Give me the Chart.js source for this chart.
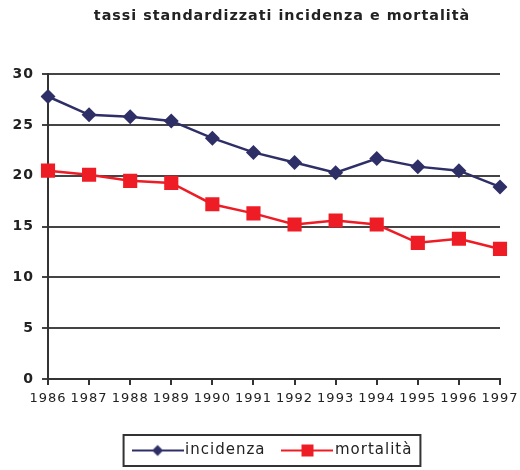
<!DOCTYPE html>
<html>
<head>
<meta charset="utf-8">
<script src="https://cdn.jsdelivr.net/npm/chart.js@4"></script>
<style>
html,body{margin:0;padding:0;background:#fff;}
#c{display:block;}
</style>
</head>
<body>
<canvas id="c" width="520" height="470"></canvas>
<script>
const years = ['1986','1987','1988','1989','1990','1991','1992','1993','1994','1995','1996','1997'];
const incidenza = [27.8, 26.0, 25.8, 25.4, 23.7, 22.3, 21.3, 20.3, 21.7, 20.9, 20.5, 18.9];
const mortalita = [20.5, 20.1, 19.5, 19.3, 17.2, 16.3, 15.2, 15.6, 15.2, 13.4, 13.8, 12.8];
const yTicks = [0, 5, 10, 15, 20, 25, 30];
const titleText = 'tassi standardizzati incidenza e mortalità';

const NAVY = '#2F2F68';
const RED = '#EE1C25';
const FONT = "'DejaVu Sans', sans-serif";
const TITLE_SHIFT = 32;
const LEGEND_SHIFT = 25;
const ICON_W = 52, ICON_BOX = 40;

function legendIcon(color, style){
  const cv = document.createElement('canvas');
  cv.width = ICON_W; cv.height = 14;
  const g = cv.getContext('2d');
  const c = ICON_W/2;
  g.strokeStyle = color; g.lineWidth = 2;
  g.beginPath(); g.moveTo(0,7); g.lineTo(ICON_W,7); g.stroke();
  g.fillStyle = color;
  if (style === 'diamond'){
    g.beginPath(); g.moveTo(c,1.5); g.lineTo(c+5.5,7); g.lineTo(c,12.5); g.lineTo(c-5.5,7); g.closePath(); g.fill();
  } else {
    g.fillRect(c-6,1,12,12);
  }
  return cv;
}
const icons = [legendIcon(NAVY,'diamond'), legendIcon(RED,'rect')];

const spacing = {
  id:'spacing',
  beforeInit(chart){ chart.ctx.letterSpacing = '1px'; },
  beforeLayout(chart){ chart.ctx.letterSpacing = '1px'; },
  beforeDraw(chart){ chart.ctx.letterSpacing = '1px'; }
};
function shiftBox(box, dx, ctx){
  if(!box || box._shifted) return;
  const orig = box.draw.bind(box);
  box.draw = function(...a){ ctx.save(); ctx.translate(dx,0); orig(...a); ctx.restore(); };
  box._shifted = true;
}
const shifter = {
  id:'shifter',
  afterLayout(chart){
    shiftBox(chart.titleBlock, TITLE_SHIFT, chart.ctx);
    shiftBox(chart.legend, LEGEND_SHIFT, chart.ctx);
  }
};
const legendBorder = {
  id:'legendBorder',
  afterDraw(chart){
    const lg = chart.legend;
    if(!lg || !lg.legendHitBoxes || !lg.legendHitBoxes.length) return;
    const hb = lg.legendHitBoxes;
    const ext = (ICON_W - ICON_BOX)/2;
    const l = Math.min(...hb.map(b=>b.left)) - ext - 8 + LEGEND_SHIFT;
    const r = Math.max(...hb.map(b=>b.left+b.width)) + 8 + LEGEND_SHIFT;
    const t = Math.min(...hb.map(b=>b.top)) - 8;
    const bt = Math.max(...hb.map(b=>b.top+b.height)) + 8;
    const ctx = chart.ctx;
    ctx.save();
    ctx.strokeStyle = '#333'; ctx.lineWidth = 2;
    ctx.strokeRect(l, t, r-l, bt-t);
    ctx.restore();
  }
};

new Chart(document.getElementById('c'), {
  type:'line',
  data:{
    labels: years,
    datasets:[
      {label:'incidenza', data:incidenza, borderColor:NAVY, backgroundColor:NAVY, borderWidth:2.5,
       pointStyle:'rectRot', pointRadius:7.5, pointHoverRadius:7.5, pointBorderWidth:0, tension:0},
      {label:'mortalità', data:mortalita, borderColor:RED, backgroundColor:RED, borderWidth:2.5,
       pointStyle:'rect', pointRadius:10, pointHoverRadius:10, pointBorderWidth:0, tension:0}
    ]
  },
  options:{
    responsive:false,
    animation:false,
    layout:{padding:{left:0,right:20,top:8,bottom:2}},
    plugins:{
      title:{display:true, text:titleText, color:'#222',
        font:{family:FONT, size:14.3, weight:'bold'}, padding:{top:0,bottom:49}},
      legend:{position:'bottom',
        labels:{usePointStyle:true, pointStyleWidth:ICON_BOX, color:'#222', font:{family:FONT, size:15},
          padding:22,
          generateLabels(chart){
            return chart.data.datasets.map((ds,i)=>({
              text: ds.label, pointStyle: icons[i], fillStyle: ds.borderColor,
              strokeStyle: ds.borderColor, lineWidth:0, datasetIndex:i, hidden:false, fontColor:'#222'
            }));
          }
        }
      },
      tooltip:{enabled:false}
    },
    scales:{
      x:{
        offset:false,
        grid:{drawOnChartArea:false, drawTicks:true, tickLength:6, color:'#333', lineWidth:2},
        border:{color:'#333', width:2},
        ticks:{autoSkip:false, maxRotation:0, minRotation:0, color:'#222', padding:6,
          font:{family:FONT, size:13}},
        afterFit(scale){ scale.height = 42; scale.paddingRight = 0; scale.paddingLeft = 0; }
      },
      y:{
        min:0, max:30,
        afterBuildTicks(scale){ scale.ticks = yTicks.map(v=>({value:v})); },
        grid:{color:'#444', lineWidth:2, tickLength:6, drawTicks:true},
        border:{color:'#333', width:2},
        ticks:{color:'#222', padding:8, font:{family:FONT, size:14, weight:'bold'}},
        afterFit(scale){ scale.width = 48; }
      }
    }
  },
  plugins:[spacing, shifter, legendBorder]
});
</script>
</body>
</html>
